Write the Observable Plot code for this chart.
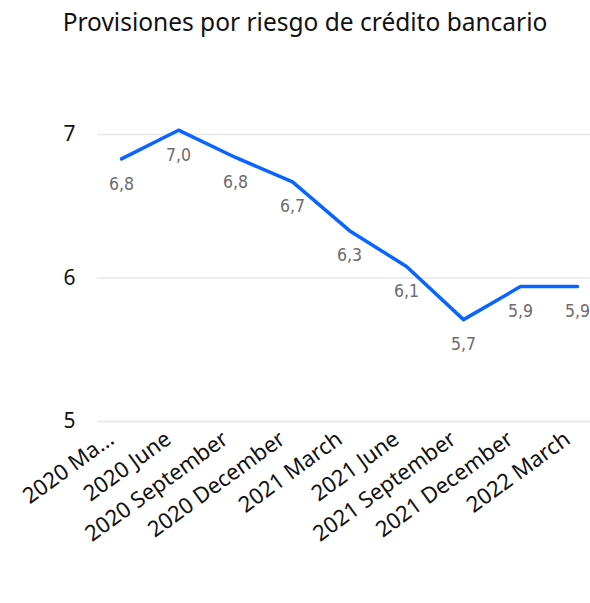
<!DOCTYPE html>
<html>
<head>
<meta charset="utf-8">
<script src="https://cdn.jsdelivr.net/npm/d3@7"></script>
<script src="https://cdn.jsdelivr.net/npm/@observablehq/plot@0.6"></script>
<style>
  html, body { margin: 0; padding: 0; background: white; }
  #wrap { position: relative; width: 590px; height: 603px; overflow: hidden; }
  #title { height: 46px; margin: 0; font-family: "Noto Sans", sans-serif; font-size: 24.5px; color: #111;
           line-height: 44px; text-align: center; padding-left: 20px; box-sizing: border-box; white-space: nowrap; }
  #chart { position: absolute; left: 0; top: 46px; }
</style>
</head>
<body>
<div id="wrap">
  <div id="title">Provisiones por riesgo de crédito bancario</div>
  <div id="chart"></div>
</div>
<script>
const categories = ["2020 March", "2020 June", "2020 September", "2020 December", "2021 March", "2021 June", "2021 September", "2021 December", "2022 March"];
const tickLabels = ["2020 Ma...", "2020 June", "2020 September", "2020 December", "2021 March", "2021 June", "2021 September", "2021 December", "2022 March"];
const values = [6.83, 7.03, 6.84, 6.67, 6.33, 6.08, 5.71, 5.94, 5.94];
const yTicks = [5, 6, 7];

const data = categories.map((c, i) => ({period: c, value: values[i]}));
const fmt = v => v.toFixed(1).replace(".", ",");

const W = 590, H = 557;

const chart = Plot.plot({
  width: W, height: H,
  marginLeft: 97, marginRight: 0, marginTop: 88, marginBottom: 182,
  style: {fontFamily: "Noto Sans, sans-serif", background: "transparent", overflow: "visible"},
  x: {type: "point", domain: categories, padding: 0, insetLeft: 22, insetRight: 12, axis: null},
  y: {domain: [5, 7], axis: null},
  marks: [
    Plot.gridY(yTicks, {stroke: "#e6e6e6", strokeOpacity: 1, strokeWidth: 1.6}),
    Plot.axisY(yTicks, {tickSize: 0, tickPadding: 22, fontSize: 21, fill: "#111", label: null, tickFormat: d => String(d)}),
    Plot.axisX({tickSize: 0, tickPadding: 15, tickRotate: -36, dx: -10, fontSize: 22, fill: "#111", label: null,
      tickFormat: d => tickLabels[categories.indexOf(d)]}),
    Plot.line(data, {x: "period", y: "value", stroke: "#0a64ff", strokeWidth: 3.5, curve: "linear"}),
    Plot.text(data, {x: "period", y: "value", text: d => fmt(d.value), dy: 25, fill: "#6b6b6b",
      fontSize: 17.5, fontFamily: "DejaVu Sans Condensed, sans-serif"})
  ]
});
document.getElementById("chart").appendChild(chart);
</script>
</body>
</html>
